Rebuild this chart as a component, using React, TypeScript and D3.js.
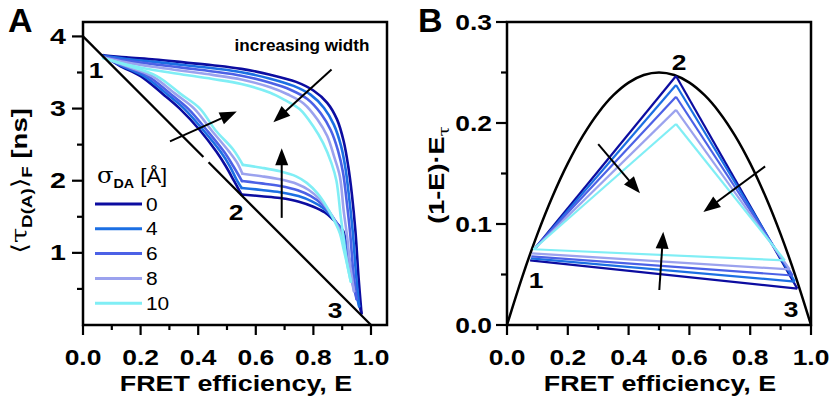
import React from 'react';
import * as d3 from 'd3';

type P = [number, number];

const sigmaLabels = ['0', '4', '6', '8', '10'];
const colors = ['#0c0ca0', '#1c6fe3', '#4c61e6', '#9ba2ee', '#80eef5'];

// Panel A: upper curves (1 -> over the top -> 3), [E, tau]
const aUpper: P[][] = [
  [[0.07,3.74],[0.15,3.71],[0.25,3.68],[0.35,3.64],[0.45,3.6],[0.55,3.55],[0.65,3.47],[0.74,3.37],[0.8,3.25],[0.848,3.08],[0.882,2.85],[0.905,2.55],[0.921,2.2],[0.934,1.8],[0.946,1.3],[0.957,0.65],[0.967,0.16]],
  [[0.07,3.731],[0.15,3.688],[0.25,3.647],[0.35,3.603],[0.45,3.558],[0.55,3.504],[0.65,3.415],[0.731,3.315],[0.79,3.193],[0.837,3.007],[0.871,2.777],[0.896,2.482],[0.912,2.156],[0.925,1.734],[0.937,1.278],[0.948,0.705],[0.959,0.257]],
  [[0.07,3.722],[0.15,3.665],[0.25,3.613],[0.35,3.564],[0.45,3.515],[0.55,3.456],[0.65,3.357],[0.722,3.258],[0.779,3.133],[0.826,2.932],[0.86,2.702],[0.886,2.41],[0.903,2.11],[0.917,1.665],[0.928,1.255],[0.938,0.763],[0.95,0.358]],
  [[0.07,3.712],[0.15,3.64],[0.25,3.575],[0.35,3.521],[0.45,3.467],[0.55,3.403],[0.65,3.295],[0.712,3.195],[0.767,3.068],[0.814,2.849],[0.848,2.619],[0.872,2.333],[0.892,2.06],[0.905,1.59],[0.917,1.23],[0.928,0.825],[0.941,0.468]],
  [[0.07,3.70],[0.15,3.61],[0.25,3.53],[0.35,3.47],[0.45,3.41],[0.55,3.34],[0.65,3.22],[0.7,3.12],[0.753,2.99],[0.8,2.75],[0.834,2.52],[0.863,2.24],[0.88,2.0],[0.895,1.5],[0.905,1.2],[0.915,0.9],[0.93,0.6]],
];

// Panel A: lower curves 1 -> 2
const aLower12: P[][] = [
  [[0.07,3.74],[0.125,3.6],[0.2,3.45],[0.278,3.2],[0.336,3.0],[0.406,2.7],[0.4635,2.4],[0.496,2.2],[0.524,2.0],[0.55,1.81]],
  [[0.07,3.731],[0.13,3.6],[0.212,3.45],[0.292,3.2],[0.351,3.0],[0.418,2.7],[0.478,2.4],[0.51,2.2],[0.535,2.0],[0.551,1.9]],
  [[0.07,3.722],[0.136,3.6],[0.225,3.45],[0.305,3.2],[0.365,3.0],[0.43,2.7],[0.49,2.4],[0.522,2.2],[0.552,1.995]],
  [[0.07,3.712],[0.143,3.6],[0.24,3.45],[0.322,3.2],[0.386,3.0],[0.446,2.7],[0.508,2.4],[0.535,2.25],[0.5535,2.097]],
  [[0.07,3.70],[0.15,3.6],[0.256,3.45],[0.34,3.2],[0.406,3.0],[0.46,2.7],[0.522,2.43],[0.555,2.22]],
];

// Panel A: lower curves 2 -> 3
const aLower23: P[][] = [
  [[0.55,1.81],[0.62,1.785],[0.684,1.76],[0.75,1.71],[0.8,1.64],[0.84,1.56],[0.869,1.46],[0.89,1.37],[0.904,1.3],[0.915,1.1],[0.935,0.7],[0.967,0.16]],
  [[0.551,1.9],[0.62,1.872],[0.684,1.841],[0.748,1.787],[0.795,1.713],[0.835,1.617],[0.864,1.5],[0.886,1.388],[0.901,1.293],[0.913,1.089],[0.931,0.735],[0.959,0.257]],
  [[0.552,1.995],[0.62,1.963],[0.684,1.927],[0.7455,1.868],[0.79,1.789],[0.829,1.677],[0.859,1.541],[0.882,1.406],[0.899,1.287],[0.9105,1.078],[0.926,0.772],[0.95,0.358]],
  [[0.5535,2.097],[0.62,2.062],[0.684,2.019],[0.743,1.955],[0.784,1.871],[0.8225,1.742],[0.853,1.586],[0.877,1.426],[0.896,1.279],[0.908,1.065],[0.922,0.812],[0.941,0.468]],
  [[0.555,2.22],[0.62,2.18],[0.684,2.13],[0.74,2.06],[0.777,1.97],[0.815,1.82],[0.846,1.64],[0.872,1.45],[0.892,1.27],[0.905,1.05],[0.916,0.86],[0.93,0.6]],
];

// Panel A: static line (drawn with a small gap)
const aStatic: P[][] = [
  [[0, 4], [0.418, 2.328]],
  [[0.436, 2.256], [1, 0]],
];

// Panel A arrows: [tail, tip]
const aArrows: P[][] = [
  [[0.302, 2.546], [0.534, 2.96]],
  [[0.863, 3.54], [0.661, 2.81]],
  [[0.69, 1.485], [0.69, 2.45]],
];

// Panel B
const bParabola: P[] = [[0,0],[0.05,0.0475],[0.1,0.09],[0.15,0.1275],[0.2,0.16],[0.25,0.1875],[0.3,0.21],[0.35,0.2275],[0.4,0.24],[0.45,0.2475],[0.5,0.25],[0.55,0.2475],[0.6,0.24],[0.65,0.2275],[0.7,0.21],[0.75,0.1875],[0.8,0.16],[0.85,0.1275],[0.9,0.09],[0.95,0.0475],[1,0]];
const bApex: P[] = [[0.556,0.2465],[0.556,0.2376],[0.556,0.226],[0.556,0.213],[0.556,0.199]];
const bVertex1: P[] = [[0.095,0.077],[0.093,0.076],[0.091,0.076],[0.089,0.075],[0.087,0.075]];
const bVertex3: P[] = [[0.955,0.036],[0.947,0.043],[0.94,0.049],[0.93,0.055],[0.914,0.064]];
const bBottomLeft: P[] = [[0.076,0.064],[0.078,0.066],[0.08,0.068],[0.082,0.071],[0.086,0.075]];
const bArrows: P[][] = [
  [[0.3, 0.179], [0.4375, 0.1304]],
  [[0.849, 0.157], [0.646, 0.112]],
  [[0.501, 0.0347], [0.514, 0.0924]],
];

const xMajor = [0, 0.2, 0.4, 0.6, 0.8, 1.0];
const xMinor = [0.1, 0.3, 0.5, 0.7, 0.9];
const aYMajor = [1, 2, 3, 4];
const aYMinor = [0.5, 1.5, 2.5, 3.5];
const bYMajor = [0, 0.1, 0.2, 0.3];
const bYMinor = [0.05, 0.15, 0.25];

const FONT = "'Liberation Sans', Arial, Helvetica, sans-serif";

function Txt(props: any) {
  const { x, y, rot = 0, sx = 1.2, anchor = 'middle', size, weight = 'bold', children, family = FONT } = props;
  return (
    <text transform={`translate(${x},${y}) rotate(${rot}) scale(${sx},1)`} textAnchor={anchor}
      fontSize={size} fontWeight={weight} fontFamily={family} fill="#000">{children}</text>
  );
}

function Arrow({ t, h }: { t: P; h: P }) {
  const dx = h[0] - t[0], dy = h[1] - t[1];
  const len = Math.sqrt(dx * dx + dy * dy);
  const ux = dx / len, uy = dy / len;
  const hl = 17, hw = 6.5;
  const bx = h[0] - ux * hl, by = h[1] - uy * hl;
  const pts = `${h[0]},${h[1]} ${bx - uy * hw},${by + ux * hw} ${bx + uy * hw},${by - ux * hw}`;
  return (
    <g>
      <line x1={t[0]} y1={t[1]} x2={bx + ux * 2} y2={by + uy * 2} stroke="#000" strokeWidth={2} />
      <polygon points={pts} fill="#000" />
    </g>
  );
}

export default function App() {
  const L = 83, R = 387, T = 22, B = 325;
  const xA = d3.scaleLinear().domain([0, 1.0556]).range([L, R]);
  const yA = d3.scaleLinear().domain([0, 4.2]).range([B, T]);
  const BL = 507, BR = 811;
  const xB = d3.scaleLinear().domain([0, 1]).range([BL, BR]);
  const yB = d3.scaleLinear().domain([0, 0.3]).range([B, T]);

  const lineA = d3.line<P>().x(d => xA(d[0])).y(d => yA(d[1])).curve(d3.curveCatmullRom.alpha(0.5));
  const straightA = d3.line<P>().x(d => xA(d[0])).y(d => yA(d[1]));
  const lineB = d3.line<P>().x(d => xB(d[0])).y(d => yB(d[1]));
  const curveB = d3.line<P>().x(d => xB(d[0])).y(d => yB(d[1])).curve(d3.curveCatmullRom.alpha(0.5));
  const fmt = d3.format('.1f');

  const cw = 2.6;

  return (
    <svg width={829} height={406} style={{ position: 'fixed', left: 0, top: 0, background: '#fff' }}>
      <rect x={0} y={0} width={829} height={406} fill="#fff" />
      {/* ---------- Panel A ---------- */}
      <g fill="none" strokeLinejoin="round" strokeLinecap="round">
        {aUpper.map((s, i) => (
          <g key={i} stroke={colors[i]} strokeWidth={cw}>
            <path d={lineA(s) || ''} />
            <path d={lineA(aLower12[i]) || ''} />
            <path d={lineA(aLower23[i]) || ''} />
          </g>
        ))}
        {aStatic.map((s, i) => (
          <path key={i} d={straightA(s) || ''} stroke="#000" strokeWidth={2.3} strokeLinecap="butt" />
        ))}
      </g>
      {aArrows.map((a, i) => (
        <Arrow key={i} t={[xA(a[0][0]), yA(a[0][1])]} h={[xA(a[1][0]), yA(a[1][1])]} />
      ))}
      <Txt x={302} y={50.5} size={16} sx={1.07}>increasing width</Txt>
      {/* legend */}
      <text transform="translate(97,183) scale(1.1,1)" fontFamily={FONT} fill="#000">
        <tspan fontSize={22} fontFamily="'DejaVu Serif', serif">σ</tspan>
        <tspan fontSize={13} fontWeight="bold" dy={5}>DA</tspan>
        <tspan fontSize={20} dy={-5}> [Å]</tspan>
      </text>
      {sigmaLabels.map((s, i) => (
        <g key={s}>
          <line x1={95} x2={142} y1={204 + i * 24.8} y2={204 + i * 24.8} stroke={colors[i]} strokeWidth={3} />
          <Txt x={146} y={204 + i * 24.8 + 6.5} size={19} weight="normal" anchor="start" sx={1.1}>{s}</Txt>
        </g>
      ))}
      {/* frame & ticks */}
      <rect x={L} y={T} width={R - L} height={B - T} fill="none" stroke="#000" strokeWidth={2.5} />
      {xMajor.map(v => (
        <g key={v}>
          <line x1={xA(v)} x2={xA(v)} y1={B} y2={B + 10} stroke="#000" strokeWidth={2.2} />
          <Txt x={xA(v)} y={365} size={22}>{fmt(v)}</Txt>
        </g>
      ))}
      {xMinor.map(v => (
        <line key={v} x1={xA(v)} x2={xA(v)} y1={B} y2={B + 5} stroke="#000" strokeWidth={2.2} />
      ))}
      {aYMajor.map(v => (
        <g key={v}>
          <line x1={L - 11} x2={L} y1={yA(v)} y2={yA(v)} stroke="#000" strokeWidth={2.2} />
          <Txt x={66} y={yA(v) + 7.5} size={22} anchor="end" sx={1.3}>{String(v)}</Txt>
        </g>
      ))}
      {aYMinor.map(v => (
        <line key={v} x1={L - 6} x2={L} y1={yA(v)} y2={yA(v)} stroke="#000" strokeWidth={2.2} />
      ))}
      <Txt x={236} y={391} size={21.5} sx={1.25}>FRET efficiency, E</Txt>
      <text transform="translate(27,181) rotate(-90) scale(1.25,1)" textAnchor="middle" fontFamily={FONT} fill="#000">
        <tspan fontSize={22} fontFamily="'DejaVu Sans', sans-serif">⟨</tspan>
        <tspan fontSize={22} fontFamily="'DejaVu Serif', serif">τ</tspan>
        <tspan fontSize={15} fontWeight="bold" dy={5}>D(A)</tspan>
        <tspan fontSize={22} fontFamily="'DejaVu Sans', sans-serif" dy={-5}>⟩</tspan>
        <tspan fontSize={15} fontWeight="bold" dy={5}>F</tspan>
        <tspan fontSize={22} fontWeight="bold" dy={-5}> [ns]</tspan>
      </text>
      <Txt x={96} y={78} size={22}>1</Txt>
      <Txt x={236} y={220} size={22}>2</Txt>
      <Txt x={335} y={318} size={22}>3</Txt>
      <Txt x={8} y={32} size={34} anchor="start" sx={1.0}>A</Txt>

      {/* ---------- Panel B ---------- */}
      <path d={curveB(bParabola) || ''} fill="none" stroke="#000" strokeWidth={2.5} />
      <g fill="none" strokeLinejoin="round">
        {bApex.map((a, i) => (
          <g key={i} stroke={colors[i]} strokeWidth={2.2}>
            <path d={lineB([bVertex1[i], a]) || ''} />
            <path d={lineB([a, bVertex3[i]]) || ''} />
            <path d={lineB([bVertex3[i], bBottomLeft[i]]) || ''} />
          </g>
        ))}
      </g>
      {bArrows.map((a, i) => (
        <Arrow key={i} t={[xB(a[0][0]), yB(a[0][1])]} h={[xB(a[1][0]), yB(a[1][1])]} />
      ))}
      <rect x={BL} y={T} width={BR - BL} height={B - T} fill="none" stroke="#000" strokeWidth={2.5} />
      {xMajor.map(v => (
        <g key={v}>
          <line x1={xB(v)} x2={xB(v)} y1={B} y2={B + 10} stroke="#000" strokeWidth={2.2} />
          <Txt x={xB(v)} y={365} size={22}>{fmt(v)}</Txt>
        </g>
      ))}
      {xMinor.map(v => (
        <line key={v} x1={xB(v)} x2={xB(v)} y1={B} y2={B + 5} stroke="#000" strokeWidth={2.2} />
      ))}
      {bYMajor.map(v => (
        <g key={v}>
          <line x1={BL - 11} x2={BL} y1={yB(v)} y2={yB(v)} stroke="#000" strokeWidth={2.2} />
          <Txt x={492} y={yB(v) + 7.5} size={22} anchor="end">{fmt(v)}</Txt>
        </g>
      ))}
      {bYMinor.map(v => (
        <line key={v} x1={BL - 6} x2={BL} y1={yB(v)} y2={yB(v)} stroke="#000" strokeWidth={2.2} />
      ))}
      <Txt x={660} y={391} size={21.5} sx={1.25}>FRET efficiency, E</Txt>
      <text transform="translate(444,175) rotate(-90) scale(1.23,1)" textAnchor="middle" fontFamily={FONT} fill="#000">
        <tspan fontSize={22} fontWeight="bold">(1-E)·E</tspan>
        <tspan fontSize={15} fontFamily="'DejaVu Serif', serif" dy={5}>τ</tspan>
      </text>
      <Txt x={536} y={288} size={22}>1</Txt>
      <Txt x={679} y={70} size={22}>2</Txt>
      <Txt x={791} y={317} size={22}>3</Txt>
      <Txt x={418} y={32} size={34} anchor="start" sx={1.0}>B</Txt>
    </svg>
  );
}
